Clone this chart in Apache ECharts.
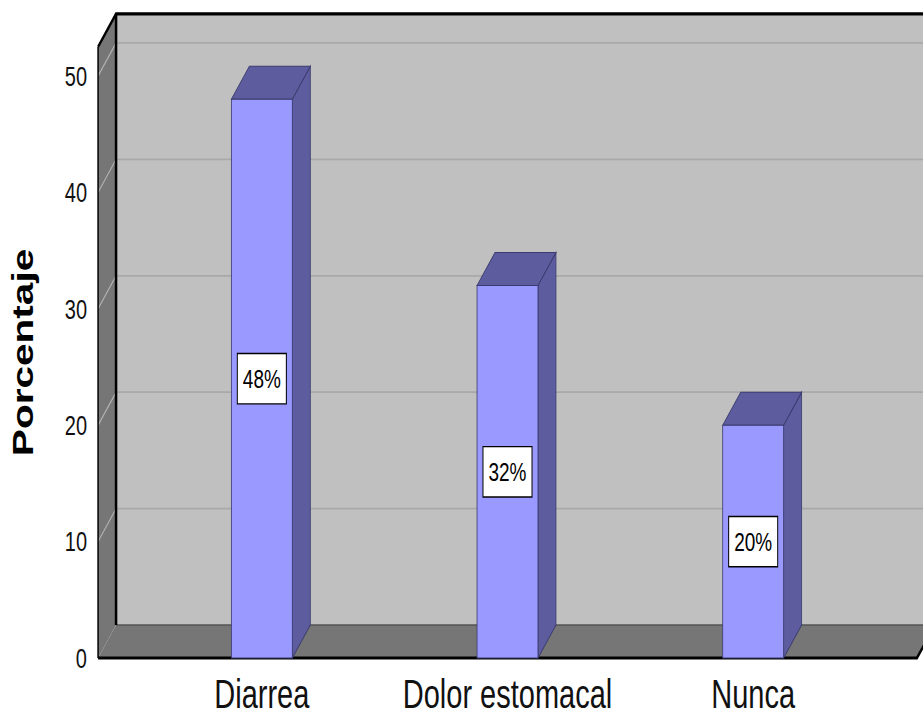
<!DOCTYPE html>
<html><head><meta charset="utf-8">
<script src="https://cdn.jsdelivr.net/npm/echarts@6/dist/echarts.min.js"></script>
<style>
html,body{margin:0;padding:0;background:#fff;width:923px;height:715px}
#wrap{width:923px;height:715px;position:relative;overflow:hidden}
#c{position:absolute;left:0;top:0;width:923px;height:511px;transform:scaleY(1.39922);transform-origin:0 0}
</style>
</head><body><div id="wrap"><div id="c"></div></div>
<script>
const categories = ['Diarrea', 'Dolor estomacal', 'Nunca'];
const percentages = [48, 32, 20];
const pctLabels = ['48%', '32%', '20%'];
const yTicks = [0, 10, 20, 30, 40, 50];
const Y_MAX = 52.5;

const DX = 18, DY = -23.6;
const FONT = "'Liberation Sans', Arial, sans-serif";

function wallsRender(params, api) {
  const band = api.size([1, 0])[0];
  const n = categories.length;
  const c0 = api.coord([0, 0]);
  const cN = api.coord([n - 1, 0]);
  const xL = c0[0] - band / 2 - band / 6;
  const xR = cN[0] + band / 2 + band / 6;
  const y0 = c0[1];
  const yT = api.coord([0, Y_MAX])[1];
  const ch = [];
  ch.push({type: 'polygon', shape: {points: [[xL + DX, yT + DY], [xR + DX + 10, yT + DY], [xR + DX + 10, y0 + DY], [xL + DX, y0 + DY]]}, style: {fill: '#c0c0c0'}});
  ch.push({type: 'polygon', shape: {points: [[xL, yT], [xL + DX, yT + DY], [xL + DX, y0 + DY], [xL, y0]]}, style: {fill: '#767676'}});
  ch.push({type: 'polygon', shape: {points: [[xL, y0], [xR, y0], [xR + DX, y0 + DY], [xL + DX, y0 + DY]]}, style: {fill: '#767676'}});
  yTicks.forEach(function (t) {
    if (t === 0) return;
    const y = api.coord([0, t])[1];
    ch.push({type: 'line', shape: {x1: xL + DX, y1: y + DY, x2: xR + DX + 10, y2: y + DY}, style: {stroke: '#a9a9a9', lineWidth: 1.3}});
    ch.push({type: 'line', shape: {x1: xL, y1: y, x2: xL + DX, y2: y + DY}, style: {stroke: '#b4b4b4', lineWidth: 1}});
  });
  ch.push({type: 'line', shape: {x1: xL + DX, y1: y0 + DY, x2: xR + DX + 10, y2: y0 + DY}, style: {stroke: '#555555', lineWidth: 1}});
  ch.push({type: 'polyline', shape: {points: [[xL, yT], [xL + DX, yT + DY], [xR + DX + 10, yT + DY]]}, style: {stroke: '#000', lineWidth: 2.2, fill: null}});
  ch.push({type: 'line', shape: {x1: xL + DX, y1: yT + DY, x2: xL + DX, y2: y0 + DY}, style: {stroke: '#000', lineWidth: 2.5}});
  ch.push({type: 'line', shape: {x1: xL, y1: yT, x2: xL, y2: y0}, style: {stroke: '#000', lineWidth: 1.5}});
  ch.push({type: 'polyline', shape: {points: [[xL, y0], [xR, y0], [xR + DX, y0 + DY]]}, style: {stroke: '#000', lineWidth: 2.2, fill: null}});
  return {type: 'group', children: ch};
}

function barRender(params, api) {
  const i = api.value(0), v = api.value(1);
  const band = api.size([1, 0])[0];
  const w = band * 0.248;
  const top = api.coord([i, v]);
  const base = api.coord([i, 0]);
  const x1 = top[0] - w / 2, x2 = top[0] + w / 2, yt = top[1], yb = base[1];
  const edge = {stroke: '#3a3a6e', lineWidth: 0.8};
  return {type: 'group', children: [
    {type: 'polygon', shape: {points: [[x2, yt], [x2 + DX, yt + DY], [x2 + DX, yb + DY], [x2, yb]]}, style: Object.assign({fill: '#5c5c9e'}, edge)},
    {type: 'polygon', shape: {points: [[x1, yt], [x1 + DX, yt + DY], [x2 + DX, yt + DY], [x2, yt]]}, style: Object.assign({fill: '#5c5c9e'}, edge)},
    {type: 'rect', shape: {x: x1, y: yt, width: w, height: yb - yt}, style: Object.assign({fill: '#9999ff'}, edge)},
    {type: 'text', x: top[0], y: (yt + yb) / 2, style: {
      text: pctLabels[params.dataIndex], fill: '#000', font: '19px ' + FONT,
      align: 'center', verticalAlign: 'middle',
      backgroundColor: '#fff', borderColor: '#000', borderWidth: 1, padding: [8, 5]
    }}
  ]};
}

const chart = echarts.init(document.getElementById('c'), null, {renderer: 'svg'});
chart.setOption({
  animation: false,
  backgroundColor: '#fff',
  grid: {left: 139, right: 47, top: 33.5, bottom: 40.7, containLabel: false},
  xAxis: {
    type: 'category', data: categories,
    axisLine: {show: false}, axisTick: {show: false}, splitLine: {show: false},
    axisLabel: {fontSize: 29, fontFamily: FONT, color: '#111', margin: 11, interval: 0, hideOverlap: false}
  },
  yAxis: {
    type: 'value', min: 0, max: Y_MAX, interval: 10, offset: 42,
    axisLine: {show: false}, axisTick: {show: false}, splitLine: {show: false},
    axisLabel: {fontSize: 20, fontFamily: FONT, color: '#111', margin: 10, showMaxLabel: false,
      formatter: function (v) { return yTicks.indexOf(v) >= 0 ? String(v) : ''; }},
    name: 'Porcentaje', nameLocation: 'middle', nameGap: 60,
    nameTextStyle: {fontSize: 29, fontWeight: 'bold', fontFamily: FONT, color: '#000'}
  },
  series: [
    {type: 'custom', renderItem: wallsRender, data: [[0, 0]], silent: true, z: 1},
    {type: 'custom', renderItem: barRender, data: percentages.map(function (v, i) { return [i, v]; }), silent: true, z: 2}
  ]
});
</script>
</body></html>
